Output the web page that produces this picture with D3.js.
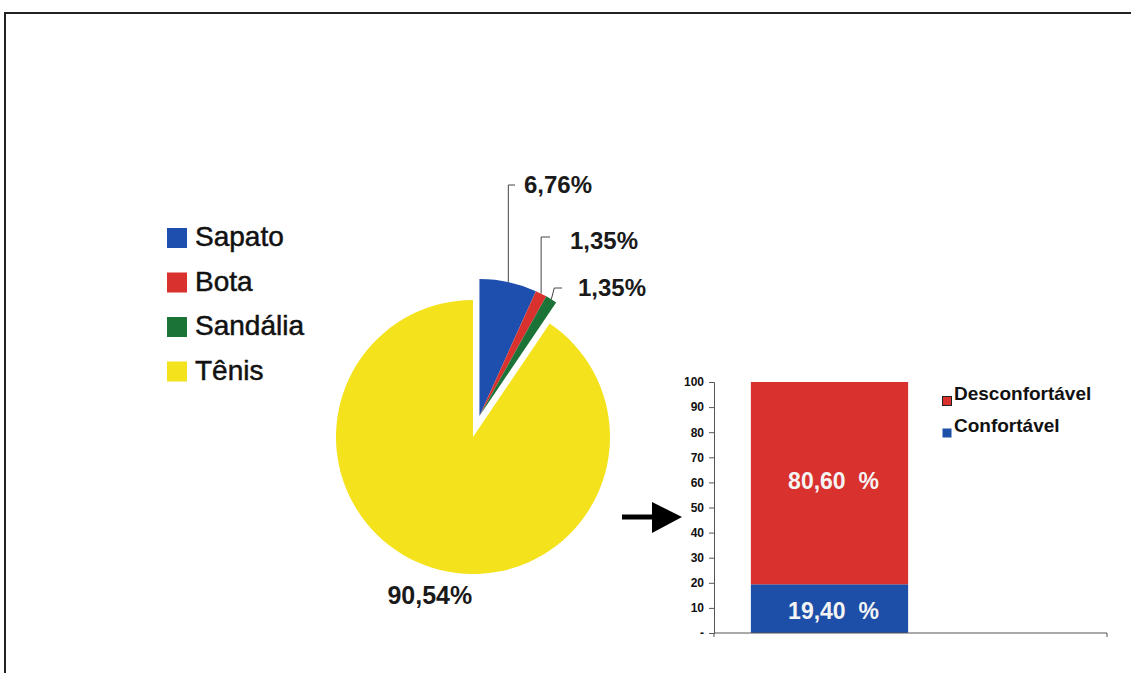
<!DOCTYPE html>
<html>
<head>
<meta charset="utf-8">
<script src="https://cdn.jsdelivr.net/npm/d3@7"></script>
<style>
  html, body { margin: 0; padding: 0; background: #fff; }
  svg { display: block; font-family: "Liberation Sans", Arial, sans-serif; }
  text { white-space: pre; }
</style>
</head>
<body>
<svg id="chart" width="1131" height="673"></svg>
<script>
// Footwear type (pie)
const pieCategories = ["Sapato", "Bota", "Sandália", "Tênis"];
const pieValues = [6.76, 1.35, 1.35, 90.54];
const pieLabels = ["6,76%", "1,35%", "1,35%", "90,54%"];
const pieColors = ["#1f4fae", "#d8312e", "#1b7337", "#f4e21c"];

// Comfort of the tennis shoe (stacked bar)
const barCategory = ["Tênis"];
const barSeries = ["Confortável", "Desconfortável"];
const barValues = [19.40, 80.60];
const barLabels = ["19,40  %", "80,60  %"];
const barColors = ["#1e4fa8", "#d8312e"];
const yTicks = [0, 10, 20, 30, 40, 50, 60, 70, 80, 90, 100];
const yTickLabels = ["-", "10", "20", "30", "40", "50", "60", "70", "80", "90", "100"];

const svg = d3.select("#chart");

// frame
svg.append("path")
  .attr("d", "M5,673 V13 H1131")
  .attr("fill", "none").attr("stroke", "#222").attr("stroke-width", 2);

// ---------- pie ----------
const cx = 473, cy = 437, r = 137, explode = 22;
const pie = d3.pie().sort(null).value(d => d)(pieValues);
const arc = d3.arc().innerRadius(0).outerRadius(r);
// the three small slices are pulled out together
const groupEnd = pie[2].endAngle;
const midGroup = groupEnd / 2;
const gOff = [explode * Math.sin(midGroup), -explode * Math.cos(midGroup)];

const pieG = svg.append("g").attr("transform", `translate(${cx},${cy})`);
pieG.selectAll("path.slice").data(pie).join("path")
  .attr("class", "slice")
  .attr("d", arc)
  .attr("fill", (d, i) => pieColors[i])
  .attr("transform", (d, i) => i < 3 ? `translate(${gOff[0]},${gOff[1]})` : null);

// leader lines and labels for the small slices
const labelSpots = [
  { ly: -252, hx: 42, tx: 51, ty: -250 },
  { ly: -200, hx: 77, tx: 97, ty: -194 },
  { ly: -149, hx: 89, tx: 105, ty: -147 }
];
pie.slice(0, 3).forEach((d, i) => {
  const a = (d.startAngle + d.endAngle) / 2;
  const px = gOff[0] + r * Math.sin(a), py = gOff[1] - r * Math.cos(a);
  const s = labelSpots[i];
  const kx = i === 2 ? px + 3 : px;
  pieG.append("path")
    .attr("d", `M${px},${py} L${kx},${s.ly} H${s.hx}`)
    .attr("fill", "none").attr("stroke", "#444").attr("stroke-width", 1);
  pieG.append("text")
    .attr("x", s.tx).attr("y", s.ty)
    .attr("dominant-baseline", "middle")
    .attr("font-size", 24).attr("font-weight", "bold").attr("fill", "#1a1a1a")
    .text(pieLabels[i]);
});
{
  const d = pie[3];
  const a = (d.startAngle + d.endAngle) / 2;
  pieG.append("text")
    .attr("x", 168 * Math.sin(a) + 6).attr("y", -168 * Math.cos(a))
    .attr("text-anchor", "middle").attr("dominant-baseline", "middle")
    .attr("font-size", 25).attr("font-weight", "bold").attr("fill", "#1a1a1a")
    .text(pieLabels[3]);
}

// pie legend
const pl = svg.append("g").attr("transform", "translate(167,238)");
pieCategories.forEach((c, i) => {
  const g = pl.append("g").attr("transform", `translate(0,${i * 44.5})`);
  g.append("rect").attr("x", 0).attr("y", -10).attr("width", 20).attr("height", 20)
    .attr("fill", pieColors[i]);
  g.append("text").attr("x", 28).attr("y", 1)
    .attr("dominant-baseline", "middle")
    .attr("font-size", 28).attr("fill", "#111")
    .attr("stroke", "#111").attr("stroke-width", 0.5)
    .text(c);
});

// arrow
svg.append("path")
  .attr("d", "M622,517 H655").attr("stroke", "#000").attr("stroke-width", 5);
svg.append("path")
  .attr("d", "M652,502 L682,517 L652,533 Z").attr("fill", "#000");

// ---------- stacked bar ----------
const y = d3.scaleLinear().domain([0, 100]).range([633, 382]);
const x = d3.scaleBand().domain(barCategory).range([714, 945]).padding(0.19);

let acc = 0;
const stacked = barValues.map((v, i) => {
  const s = { y0: acc, y1: acc + v, i };
  acc += v;
  return s;
});

const barG = svg.append("g");
barG.selectAll("rect").data(stacked).join("rect")
  .attr("x", x(barCategory[0]))
  .attr("width", x.bandwidth())
  .attr("y", d => y(d.y1))
  .attr("height", d => y(d.y0) - y(d.y1))
  .attr("fill", d => barColors[d.i]);

barG.selectAll("text").data(stacked).join("text")
  .attr("x", x(barCategory[0]) + x.bandwidth() / 2 + 4)
  .attr("y", d => y((d.y0 + d.y1) / 2) + (d.i === 0 ? 4 : 0))
  .attr("text-anchor", "middle").attr("dominant-baseline", "middle")
  .attr("font-size", 23).attr("font-weight", "bold").attr("fill", "#f4f4f4")
  .text(d => barLabels[d.i]);

// y axis
const yAxis = d3.axisLeft(y).tickValues(yTicks)
  .tickFormat((d, i) => yTickLabels[i]).tickSizeOuter(0).tickSize(5).tickPadding(5);
const yg = svg.append("g").attr("transform", "translate(714,0)").call(yAxis);
yg.select(".domain").attr("stroke", "#555");
yg.selectAll(".tick line").attr("stroke", "#555");
yg.selectAll(".tick text")
  .attr("font-family", "'Liberation Sans', Arial, sans-serif")
  .attr("font-size", 12).attr("font-weight", "bold").attr("fill", "#111");

// category axis line across the plot area
svg.append("path")
  .attr("d", "M714,633 H1107 V637")
  .attr("fill", "none").attr("stroke", "#555").attr("stroke-width", 1);
svg.append("path")
  .attr("d", "M714,633 V637")
  .attr("fill", "none").attr("stroke", "#555").attr("stroke-width", 1);

// bar legend
const bl = svg.append("g").attr("transform", "translate(942,0)");
[1, 0].forEach((si, k) => {
  const ty = 395 + k * 32;
  bl.append("rect").attr("x", 0.5).attr("y", ty + 1.5).attr("width", 9).attr("height", 9)
    .attr("fill", barColors[si]).attr("stroke", si === 1 ? "#222" : "none").attr("stroke-width", 1);
  bl.append("text").attr("x", 12).attr("y", ty)
    .attr("dominant-baseline", "middle")
    .attr("font-size", 19).attr("font-weight", "bold").attr("fill", "#111").text(barSeries[si]);
});
</script>
</body>
</html>
